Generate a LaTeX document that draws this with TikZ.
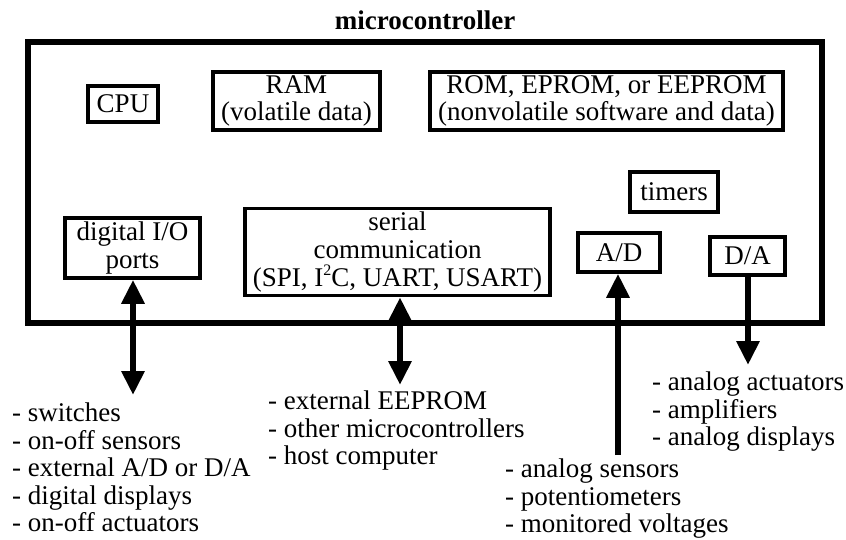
\documentclass[tikz,border=0pt]{standalone}
\usepackage{fontspec}
\setmainfont{Liberation Serif}
\usetikzlibrary{arrows.meta}
\newcommand{\supii}{\raisebox{0.42em}{\fontsize{16}{16}\selectfont 2}}
\begin{document}
\begin{tikzpicture}[x=1pt,y=-1pt,
  every node/.style={font=\fontsize{27}{27.5}\selectfont},
  blk/.style 2 args={draw,line width=3.5pt,inner sep=0pt,align=center,minimum width=#1,minimum height=#2},
  lst/.style={anchor=north west,align=left,inner sep=0pt},
  conn/.style={line width=6pt},
  tip/.tip={Triangle[width=22pt,length=24pt]}
]
\useasboundingbox (0,0) rectangle (846,539);
% outer microcontroller box
\node[draw,line width=6pt,minimum width=794pt,minimum height=281pt,inner sep=0pt] (mc) at (425,182.5) {};
\node[anchor=base,font=\fontsize{27}{27.5}\selectfont\bfseries] (title) at (425,29) {microcontroller};
% inner blocks
\node[blk={70pt}{36pt}] (cpu) at (123,104) {CPU};
\node[blk={167pt}{58pt}] (ram) at (296.5,101) {RAM\\(volatile data)};
\node[blk={353pt}{58pt}] (rom) at (606.5,101) {ROM, EPROM, or EEPROM\\(nonvolatile software and data)};
\node[blk={88pt}{40pt}] (tim) at (674,192) {timers};
\node[blk={135pt}{60pt}] (dio) at (132.5,248) {digital I/O\\ports};
\node[blk={305pt}{87pt},font=\fontsize{27}{28}\selectfont] (ser) at (397.5,252) {serial\\communication\\(SPI, I\supii C, UART, USART)};
\node[blk={82pt}{39pt}] (ad) at (619,252.5) {A/D};
\node[blk={75pt}{38pt}] (da) at (747.5,256) {D/A};
% external lists
\node[lst] (ldio) at (12,403) {- switches\\- on-off sensors\\- external A/D or D/A\\- digital displays\\- on-off actuators};
\node[lst] (lser) at (268,391) {- external EEPROM\\- other microcontrollers\\- host computer};
\node[lst] (lad) at (505,459) {- analog sensors\\- potentiometers\\- monitored voltages};
\node[lst] (lda) at (652,372) {- analog actuators\\- amplifiers\\- analog displays};
% connector ends
\coordinate (dioend) at (133,395);
\coordinate (serend) at (400,385);
\coordinate (adend) at (618,455);
\coordinate (daend) at (748,365);
% connectors
\draw[conn,{tip}-{tip}] (dio.south -| dioend) -- (dioend);
\draw[conn,{tip}-{tip}] (ser.south -| serend) -- (serend);
\draw[conn,-{tip}] (adend) -- (ad.south -| adend);
\draw[conn,-{tip}] (da.south -| daend) -- (daend);
\end{tikzpicture}
\end{document}
